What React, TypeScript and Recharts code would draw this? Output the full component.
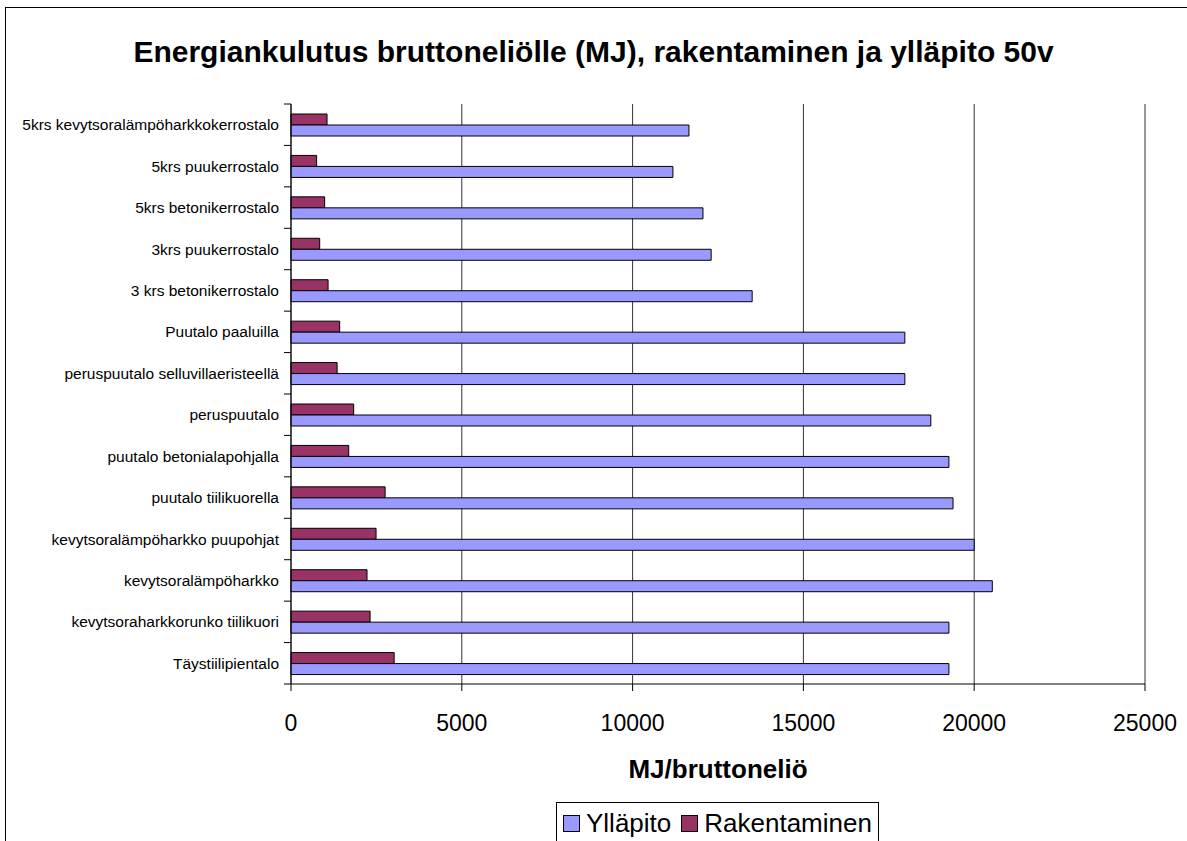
import React from 'react';
import { BarChart, Bar, XAxis, YAxis, CartesianGrid } from 'recharts';

// categories top to bottom, as in the reference
const categories = [
  '5krs kevytsoralämpöharkkokerrostalo',
  '5krs puukerrostalo',
  '5krs betonikerrostalo',
  '3krs puukerrostalo',
  '3 krs betonikerrostalo',
  'Puutalo paaluilla',
  'peruspuutalo selluvillaeristeellä',
  'peruspuutalo',
  'puutalo betonialapohjalla',
  'puutalo tiilikuorella',
  'kevytsoralämpöharkko puupohjat',
  'kevytsoralämpöharkko',
  'kevytsoraharkkorunko tiilikuori',
  'Täystiilipientalo',
];

const yllapito = [11650, 11180, 12060, 12300, 13500, 17970, 17970, 18730, 19260, 19380, 20000, 20530, 19260, 19260];
const rakentaminen = [1055, 750, 985, 840, 1085, 1425, 1350, 1835, 1690, 2755, 2490, 2225, 2315, 3020];

const xTicks = [0, 5000, 10000, 15000, 20000, 25000];

const FONT = '"Liberation Sans", Arial, sans-serif';
const BLUE = '#9999FF';
const RED = '#993366';

const data = categories.map((name, i) => ({
  name,
  yllapito: yllapito[i],
  rakentaminen: rakentaminen[i],
}));

const CategoryTick = (props: any) => {
  const { x, y, payload, index } = props;
  const half = payload && payload.offset ? payload.offset : 580 / categories.length / 2;
  const axisX = x + 12;
  return (
    <g>
      <text
        x={x}
        y={y}
        textAnchor="end"
        dominantBaseline="central"
        fontFamily={FONT}
        fontSize={15.5}
        fill="#000"
      >
        {payload.value}
      </text>
      <line x1={axisX - 7} x2={axisX} y1={y - half} y2={y - half} stroke="#000" />
      {index === categories.length - 1 && (
        <line x1={axisX - 7} x2={axisX} y1={y + half} y2={y + half} stroke="#000" />
      )}
    </g>
  );
};

const legendItems = [
  { label: 'Ylläpito', color: BLUE },
  { label: 'Rakentaminen', color: RED },
];

const App: React.FC = () => {
  return (
    <div
      style={{
        position: 'absolute',
        left: 0,
        top: 0,
        width: 1187,
        height: 841,
        overflow: 'hidden',
        background: '#fff',
        fontFamily: FONT,
      }}
    >
      <div
        style={{
          position: 'absolute',
          left: 5,
          top: 7,
          width: 1300,
          height: 1000,
          border: '1.5px solid #000',
        }}
      />
      <div
        style={{
          position: 'absolute',
          left: 0,
          width: 1187,
          top: 35,
          textAlign: 'center',
          fontSize: 30,
          fontWeight: 'bold',
          color: '#000',
          whiteSpace: 'nowrap',
        }}
      >
        Energiankulutus bruttoneliölle (MJ), rakentaminen ja ylläpito 50v
      </div>

      <div style={{ position: 'absolute', left: 0, top: 0 }}>
        <BarChart
          width={1187}
          height={841}
          data={data}
          layout="vertical"
          margin={{ top: 104, right: 42, bottom: 57, left: 8 }}
          barGap={0}
          barSize={11}
        >
          <CartesianGrid horizontal={false} vertical stroke="#333" strokeWidth={1} />
          <XAxis
            type="number"
            domain={[0, 25000]}
            ticks={xTicks}
            height={100}
            tickSize={7}
            tickMargin={24}
            axisLine={{ stroke: '#000' }}
            tickLine={{ stroke: '#000' }}
            tick={{ fill: '#000', fontSize: 23, fontFamily: FONT }}
            interval={0}
          />
          <XAxis
            xAxisId="top"
            orientation="top"
            type="number"
            domain={[0, 25000]}
            height={0}
            tick={false}
            tickLine={false}
            axisLine={{ stroke: '#888' }}
          />
          <YAxis
            type="category"
            dataKey="name"
            width={283}
            tickSize={0}
            tickMargin={12}
            axisLine={{ stroke: '#000' }}
            tick={<CategoryTick />}
            interval={0}
          />
          <YAxis
            yAxisId="right"
            orientation="right"
            type="category"
            dataKey="name"
            width={0}
            tick={false}
            tickLine={false}
            axisLine={{ stroke: '#888' }}
          />
          <Bar dataKey="rakentaminen" fill={RED} stroke="#000" strokeWidth={1} isAnimationActive={false} />
          <Bar dataKey="yllapito" fill={BLUE} stroke="#000" strokeWidth={1} isAnimationActive={false} />
        </BarChart>
      </div>

      <div
        style={{
          position: 'absolute',
          left: 291,
          width: 854,
          top: 754,
          textAlign: 'center',
          fontSize: 26,
          fontWeight: 'bold',
          color: '#000',
        }}
      >
        MJ/bruttoneliö
      </div>

      <div
        style={{
          position: 'absolute',
          left: 556,
          top: 802,
          width: 323,
          height: 60,
          border: '1px solid #000',
          boxSizing: 'border-box',
          fontSize: 26,
          color: '#000',
          display: 'flex',
          alignItems: 'flex-start',
          paddingTop: 5,
          paddingLeft: 6,
          gap: 10,
        }}
      >
        {legendItems.map((item) => (
          <span key={item.label} style={{ display: 'flex', alignItems: 'center', gap: 6 }}>
            <span
              style={{
                display: 'inline-block',
                width: 15,
                height: 15,
                background: item.color,
                border: '1px solid #000',
              }}
            />
            {item.label}
          </span>
        ))}
      </div>
    </div>
  );
};

export default App;
